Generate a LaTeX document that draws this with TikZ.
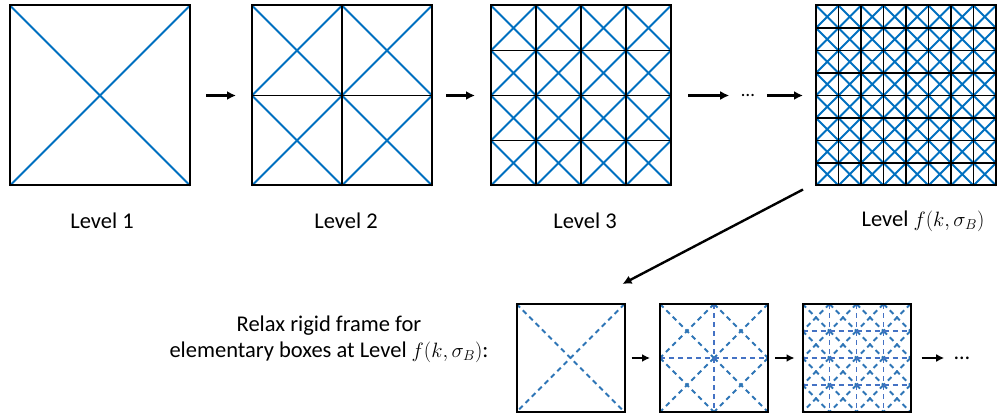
\documentclass[tikz,border=0pt]{standalone}
\usepackage{fontspec}
\setmainfont{Carlito}
\usetikzlibrary{arrows.meta}
\definecolor{crossblue}{RGB}{0,112,192}
\definecolor{relaxblue}{RGB}{46,117,182}
\definecolor{midblue}{RGB}{68,114,196}

\tikzset{
  boxslot/.style={minimum size=#1, inner sep=0pt, outer sep=0pt},
  border/.style={black, line width=2pt},
  gridline/.style={black, line width=1.7pt},
  crossline/.style={crossblue, line width=1.8pt},
  relaxcross/.style={relaxblue, line width=1.8pt, dash pattern=on 5pt off 4pt},
  relaxgrid/.style={midblue, line width=1.8pt, dash pattern=on 5pt off 4pt},
  steparrow/.style={-{Latex[length=9pt,width=9pt]}, line width=2.4pt},
  smallarrow/.style={-{Latex[length=8pt,width=8pt]}, line width=2.2pt},
  lbl/.style={font=\fontsize{22.5}{26}\selectfont, anchor=base, inner sep=0pt}
}

% #1 node, #2 cells per side, #3 side, #4 cross style, #5 grid style
\newcommand{\fillcells}[5]{%
  \pgfmathsetmacro{\cw}{#3/#2}
  \pgfmathtruncatemacro{\nm}{#2-1}
  \begin{scope}[shift={(#1.north west)}]
    \foreach \i in {0,...,\nm}
      \foreach \j in {0,...,\nm} {
        \draw[#4] (\i*\cw,\j*\cw) -- ++(\cw,\cw);
        \draw[#4] (\i*\cw+\cw,\j*\cw) -- ++(-\cw,\cw);
      }
    \foreach \i in {0,...,#2} {
      \draw[#5] (\i*\cw,0) -- (\i*\cw,#3);
      \draw[#5] (0,\i*\cw) -- (#3,\i*\cw);
    }
  \end{scope}
  \draw[border] (#1.north west) rectangle (#1.south east);
}

\begin{document}
\begin{tikzpicture}[x=1pt, y=-1pt]
\useasboundingbox (0,0) rectangle (997,417);

% refinement levels
\node[boxslot=180pt] (lvlone) at (100,95.5) {};
\node[boxslot=180pt] (lvltwo) at (342,95.5) {};
\node[boxslot=180pt] (lvlthree) at (581,95.5) {};
\node[boxslot=180pt] (lvlf) at (906,95.5) {};
\fillcells{lvlone}{1}{180}{crossline}{gridline}
\fillcells{lvltwo}{2}{180}{crossline}{gridline}
\fillcells{lvlthree}{4}{180}{crossline}{gridline}
\fillcells{lvlf}{8}{180}{crossline}{gridline}

\node[lbl] (labone) at (102,229) {Level 1};
\node[lbl] (labtwo) at (346,229) {Level 2};
\node[lbl] (labthree) at (585,229) {Level 3};
\node[lbl] (labf) at (923,226) {Level $f(k,\sigma_B)$};

\node[font=\fontsize{19}{21}\selectfont, inner sep=0pt] (topdots) at (748,95.5) {\ldots};

\draw[steparrow] ([xshift=16pt]lvlone.east) -- ([xshift=-16pt]lvltwo.west);
\draw[steparrow] ([xshift=14pt]lvltwo.east) -- ([xshift=-16pt]lvlthree.west);
\draw[steparrow] ([xshift=17pt]lvlthree.east) -- ([xshift=-12pt]topdots.west);
\draw[steparrow] ([xshift=12pt]topdots.east) -- ([xshift=-13pt]lvlf.west);

% relaxed frames
\node[boxslot=108pt] (relaxone) at (570.5,358) {};
\node[boxslot=108pt] (relaxtwo) at (714,358) {};
\node[boxslot=108pt] (relaxthree) at (856.5,358) {};
\fillcells{relaxone}{1}{108}{relaxcross}{relaxgrid}
\fillcells{relaxtwo}{2}{108}{relaxcross}{relaxgrid}
\fillcells{relaxthree}{4}{108}{relaxcross}{relaxgrid}

\draw[steparrow] ([shift={(-13,4)}]lvlf.south west) -- ([shift={(-2,-20)}]relaxone.north east);

\node[lbl, anchor=center, align=center] (relaxtext) at (329,339)
  {Relax rigid frame for\\elementary boxes at Level $f(k,\sigma_B)$:};

\node[font=\fontsize{22}{25}\selectfont, inner sep=0pt] (botdots) at (962,358) {\ldots};

\draw[smallarrow] ([xshift=7pt]relaxone.east) -- ([xshift=-10pt]relaxtwo.west);
\draw[smallarrow] ([xshift=7pt]relaxtwo.east) -- ([xshift=-8pt]relaxthree.west);
\draw[smallarrow] ([xshift=11pt]relaxthree.east) -- ([xshift=-10pt]botdots.west);
\end{tikzpicture}
\end{document}
